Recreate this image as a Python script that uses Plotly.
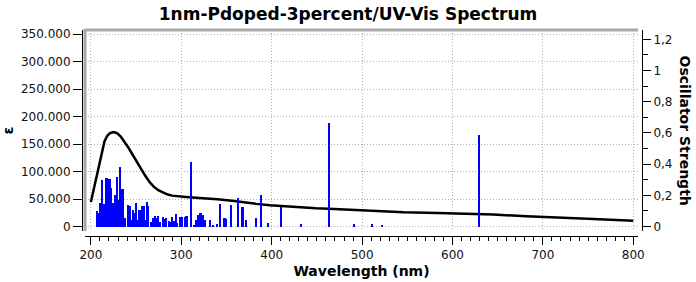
import plotly.graph_objects as go

# ---------------- data ----------------
curve_nm = [200, 203, 206, 209, 212, 215, 218, 221, 225, 229, 233, 237, 241, 245, 250,
            255, 260, 265, 270, 275, 280, 285, 290, 296, 305, 320, 340, 356, 369, 383,
            398, 407, 423, 449, 469, 488, 506, 546, 583, 620, 645, 682, 719, 756, 800]
curve_eps = [45000, 68000, 90000, 115000, 138000, 155000, 165000, 170000, 172000, 170000,
             164000, 155000, 145000, 134000, 120000, 106000, 93000, 81000, 72000, 66000,
             61500, 58500, 56500, 55000, 54000, 52000, 50000, 47000, 44000, 41500,
             39000, 37800, 35800, 33500, 32200, 30500, 28600, 26200, 25000, 23800,
             22000, 19000, 16000, 14000, 11000]

stick_nm = [206.6, 208.5, 210.0, 211.4, 213.0, 215.0, 217.5, 219.0, 220.8, 222.7, 224.4,
            225.7, 226.9, 228.8, 230.5, 232.0, 234.0, 236.0, 237.7, 241.0, 243.0, 245.0,
            247.0, 248.7, 250.6, 252.6, 254.0, 256.5, 258.5, 260.3, 262.0, 263.6, 267.3,
            269.0, 271.0, 272.8, 274.7, 276.4, 280.3, 282.0, 283.8, 286.4, 288.4, 290.2,
            292.0, 294.0, 295.8, 299.4, 301.3, 304.0, 306.0, 310.7, 314.0, 316.2, 318.3,
            321.5, 323.8, 326.0, 331.6, 335.0, 339.3, 343.5, 348.0, 350.0, 355.0, 362.6,
            368.0, 371.5, 382.6, 388.4, 396.0, 410.4, 432.6, 463.6, 491.0, 511.0, 522.0,
            629.7]
stick_f = [0.100, 0.090, 0.150, 0.085, 0.300, 0.145, 0.310, 0.235, 0.306, 0.246, 0.150,
           0.064, 0.200, 0.317, 0.170, 0.380, 0.240, 0.240, 0.053, 0.140, 0.130, 0.040,
           0.107, 0.090, 0.154, 0.043, 0.107, 0.133, 0.133, 0.040, 0.158, 0.133, 0.032,
           0.053, 0.068, 0.053, 0.068, 0.030, 0.064, 0.047, 0.053, 0.038, 0.032, 0.060,
           0.038, 0.081, 0.026, 0.064, 0.060, 0.064, 0.068, 0.415, 0.012, 0.045, 0.075,
           0.087, 0.075, 0.043, 0.043, 0.012, 0.017, 0.145, 0.058, 0.049, 0.138, 0.184,
           0.128, 0.043, 0.058, 0.203, 0.024, 0.128, 0.017, 0.661, 0.017, 0.017, 0.012,
           0.586]

x_ticks = [200, 300, 400, 500, 600, 700, 800]
x_labels = ["200", "300", "400", "500", "600", "700", "800"]
y_ticks = [0, 50000, 100000, 150000, 200000, 250000, 300000, 350000]
y_labels = ["0", "50.000", "100.000", "150.000", "200.000", "250.000", "300.000", "350.000"]
y2_ticks = [0, 0.2, 0.4, 0.6, 0.8, 1.0, 1.2]
y2_labels = ["0", "0,2", "0,4", "0,6", "0,8", "1", "1,2"]

title_text = "1nm-Pdoped-3percent/UV-Vis Spectrum"
x_title = "Wavelength (nm)"
y_title = "ε"
y2_title = "Oscillator Strength"

# ---------------- figure ----------------
FONT = "DejaVu Sans"
TICKFONT = dict(family=FONT, size=12, color="#111111")
GRID = dict(showgrid=True, gridcolor="#b0b0b0", griddash="1px,2px", gridwidth=1)

fig = go.Figure()
fig.add_trace(go.Scatter(x=curve_nm, y=curve_eps, mode="lines",
                         line=dict(color="black", width=2.5), yaxis="y",
                         showlegend=False, hoverinfo="skip"))
fig.add_trace(go.Bar(x=stick_nm, y=stick_f, width=1.8, yaxis="y2",
                     marker=dict(color="#0000FF", line=dict(width=0)),
                     showlegend=False))

W, H = 696, 282
ml, mr, mt, mb = 70, 50, 28, 42
pw, ph = W - ml - mr, H - mt - mb

def px_x(p):
    return (p - ml) / pw

def px_y(p):
    return (H - mb - p) / ph

fig.update_layout(
    width=W, height=H,
    margin=dict(l=ml, r=mr, t=mt, b=mb, pad=0, autoexpand=False),
    paper_bgcolor="white", plot_bgcolor="white",
    showlegend=False,
    title=dict(text=title_text, x=348 / W, xref="container", xanchor="center",
               y=1 - 14 / H, yref="container", yanchor="middle", automargin=False,
               font=dict(family=FONT, size=17, color="black", weight="bold")),
    xaxis=dict(
        domain=[px_x(85), px_x(638)], range=[193.47, 805.2],
        anchor="free", position=px_y(236), automargin=False,
        showline=True, linecolor="black", linewidth=1,
        ticks="outside", ticklen=8, tickcolor="black",
        tickvals=x_ticks, ticktext=x_labels, tickfont=TICKFONT,
        minor=dict(tick0=200, dtick=10, ticks="outside", ticklen=4,
                   tickcolor="black", showgrid=False),
        zeroline=False, **GRID,
        title=dict(text=x_title, font=dict(family=FONT, size=14, color="black",
                                           weight="bold"), standoff=4),
    ),
    yaxis=dict(
        domain=[px_y(231), px_y(30)], range=[-7818, 357636],
        anchor="free", position=px_x(82), automargin=False,
        showline=True, linecolor="black", linewidth=1,
        ticks="outside", ticklen=9, tickcolor="black",
        tickvals=y_ticks, ticktext=y_labels, tickfont=TICKFONT,
        zeroline=False, **GRID,
        title=dict(text=y_title, font=dict(family=FONT, size=14, color="black",
                                           weight="bold"), standoff=4),
    ),
    yaxis2=dict(
        overlaying="y", side="right", anchor="free", position=px_x(642),
        automargin=False,
        range=[-0.0282, 1.2596],
        showline=True, linecolor="black", linewidth=1,
        ticks="outside", ticklen=8, tickcolor="black",
        tickvals=y2_ticks, ticktext=y2_labels, tickfont=TICKFONT,
        minor=dict(tick0=0, dtick=0.1, ticks="outside", ticklen=5,
                   tickcolor="black", showgrid=False),
        showgrid=False, zeroline=False,
    ),
    bargap=0,
    shapes=[dict(type="path", xref="x domain", yref="y domain",
                 path="M 0 0 L 0 1 L 1 1",
                 line=dict(color="#a8a8a8", width=3), layer="above")],
    annotations=[dict(text=y2_title, xref="paper", yref="paper",
                      x=px_x(685), y=px_y(130.5), xanchor="center", yanchor="middle",
                      textangle=90, showarrow=False,
                      font=dict(family=FONT, size=14, color="black", weight="bold"))],
)

fig.write_html("out.html",
               config={"displayModeBar": False},
               post_script="document.body.style.margin='0';"
                           "document.body.style.overflow='hidden';")
